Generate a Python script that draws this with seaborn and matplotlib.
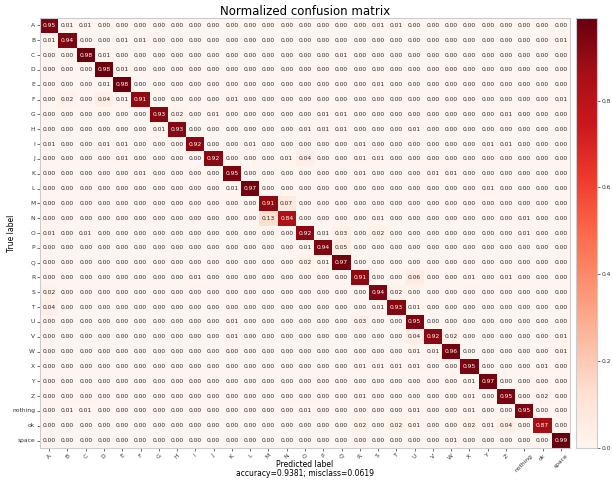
import numpy as np
import seaborn as sns
import matplotlib
matplotlib.use('Agg')
import matplotlib.pyplot as plt

labels = list('ABCDEFGHIJKLMNOPQRSTUVWXYZ') + ['nothing', 'ok', 'space']

# rows = true label, cols = predicted label
cm_rows = [
    [.95,.01,.01,0,0,0,0,0,0,0, 0,0,0,0,0,0,0,0,.01,.01, 0,0,0,0,0,0,0,0,0],
    [.01,.94,0,0,.01,.01,0,0,0,0, 0,0,0,0,0,0,0,0,0,0, 0,0,0,0,0,0,0,0,.01],
    [0,0,.98,.01,0,0,0,0,0,0, 0,0,0,0,0,0,.01,0,0,0, 0,0,0,0,0,0,0,0,0],
    [0,0,0,.98,.01,0,0,0,0,0, 0,0,0,0,0,0,0,0,0,0, 0,0,0,0,0,0,0,0,0],
    [0,0,0,.01,.98,0,0,0,0,0, 0,0,0,0,0,0,0,0,.01,0, 0,0,0,0,0,0,0,0,0],
    [0,.02,0,.04,.01,.91,0,0,0,0, .01,0,0,0,0,0,0,0,0,0, 0,0,0,0,0,0,0,0,.01],
    [0,0,0,0,0,0,.93,.02,0,.01, 0,0,0,0,0,.01,.01,0,0,0, 0,0,0,0,0,.01,0,0,0],
    [0,0,0,0,0,0,.01,.93,0,0, 0,0,0,0,.01,.01,.01,0,0,0, .01,0,0,0,0,0,0,0,0],
    [.01,0,0,.01,.01,0,0,0,.92,0, 0,.01,0,0,0,0,0,.01,0,0, 0,0,0,0,.01,.01,0,0,0],
    [0,0,0,0,.01,0,0,0,0,.92, 0,0,0,.01,.04,0,0,.01,.01,0, 0,0,0,0,0,0,0,0,0],
    [0,0,0,0,0,.01,0,0,0,0, .95,0,0,0,0,0,0,.01,0,0, 0,.01,.01,0,0,0,0,0,0],
    [0,0,0,0,0,0,0,0,0,0, .01,.97,0,0,0,0,0,0,0,0, 0,0,0,0,.01,0,0,0,0],
    [0,0,0,0,0,0,0,0,0,0, 0,0,.91,.07,0,0,0,0,0,0, 0,0,0,0,0,0,0,0,0],
    [0,0,0,0,0,0,0,0,0,0, 0,0,.13,.84,0,0,0,0,.01,0, 0,0,0,0,0,0,.01,0,0],
    [.01,0,.01,0,0,0,0,0,0,0, 0,0,0,0,.92,.01,.03,0,.02,0, 0,0,0,0,0,0,.01,0,0],
    [0,0,0,0,0,0,0,0,0,0, 0,0,0,0,.01,.94,.05,0,0,0, 0,0,0,0,0,0,0,0,0],
    [0,0,0,0,0,0,0,0,0,0, 0,0,0,0,.02,.01,.97,0,0,0, 0,0,0,0,0,0,0,0,0],
    [0,0,0,0,0,0,0,0,.01,0, 0,0,0,0,0,0,0,.91,0,0, .06,0,0,.01,0,.01,0,0,0],
    [.02,0,0,0,0,0,0,0,0,0, 0,0,0,0,0,0,0,0,.94,.02, 0,0,0,0,0,0,0,0,0],
    [.04,0,0,0,0,0,0,0,0,0, 0,0,0,0,0,0,0,0,.01,.93, .01,0,0,0,0,0,0,0,0],
    [0,0,0,0,0,0,0,0,0,0, .01,0,0,0,0,0,0,.03,0,0, .95,0,0,0,0,0,0,0,0],
    [0,0,0,0,0,0,0,0,0,0, .01,0,0,0,0,0,0,0,0,0, .04,.92,.02,0,0,0,0,0,.01],
    [0,0,0,0,0,0,0,0,0,0, 0,0,0,0,0,0,0,0,0,0, .01,.01,.96,0,0,0,0,0,.01],
    [0,0,0,0,0,0,0,0,0,0, 0,0,0,0,0,0,0,.01,.01,.01, .01,0,0,.95,0,0,0,.01,0],
    [0,0,0,0,0,0,0,0,0,0, 0,0,0,0,0,0,0,0,0,0, 0,0,0,.01,.97,0,0,0,0],
    [0,0,0,0,0,0,0,0,0,0, 0,0,0,0,0,0,0,.01,0,0, 0,0,0,.01,0,.95,0,.02,0],
    [0,.01,.01,0,0,0,0,0,0,0, 0,0,0,0,.01,0,0,0,0,0, .01,0,0,.01,0,0,.95,0,0],
    [0,0,0,0,0,0,0,0,0,0, 0,0,0,0,0,0,0,.02,0,.02, .01,0,0,.02,.01,.04,0,.87,0],
    [0,0,0,0,0,0,0,0,0,0, 0,0,0,0,0,0,0,0,0,0, 0,0,.01,0,0,0,0,0,.99],
]
accuracy = 0.9381
misclass = 0.0619

cm = np.array(cm_rows)

fig = plt.figure(figsize=(6.12, 4.86), dpi=100)
W, H = 612, 486
ax = fig.add_axes([40 / W, 1 - 448 / H, 530 / W, 430 / H])
cax = fig.add_axes([576 / W, 1 - 448 / H, 21 / W, 430 / H])

sns.heatmap(cm, ax=ax, cbar_ax=cax, cmap='Reds', vmin=0, vmax=cm.max(),
            annot=True, fmt='.2f', annot_kws={'size': 4.3},
            xticklabels=labels, yticklabels=labels)

ax.set_aspect('auto')
for s in ax.spines.values():
    s.set_visible(True)
    s.set_color('#cccccc')
    s.set_linewidth(0.8)

ax.tick_params(axis='both', length=2, width=0.5, labelsize=4.3, colors='#333333', pad=1.5)
ax.set_xticklabels(labels, rotation=45, ha='center')
ax.set_yticklabels(labels, rotation=0)

ax.set_title('Normalized confusion matrix', fontsize=8.5, pad=2)
ax.set_ylabel('True label', fontsize=5.5)
ax.yaxis.set_label_coords(-0.046, 0.5)
ax.set_xlabel('Predicted label\naccuracy={:0.4f}; misclass={:0.4f}'.format(accuracy, misclass),
              fontsize=5.5, linespacing=1.1)
ax.xaxis.set_label_coords(0.5, -0.027)

cbar = ax.collections[0].colorbar
cbar.set_ticks([0.0, 0.2, 0.4, 0.6, 0.8])
cbar.set_ticklabels(['0.0', '0.2', '0.4', '0.6', '0.8'])
cbar.ax.tick_params(labelsize=4.3, length=2, width=0.5, colors='#333333', pad=1.5)
cbar.outline.set_edgecolor('#cccccc')
cbar.outline.set_linewidth(0.8)

fig.savefig('out.png', dpi=100)
